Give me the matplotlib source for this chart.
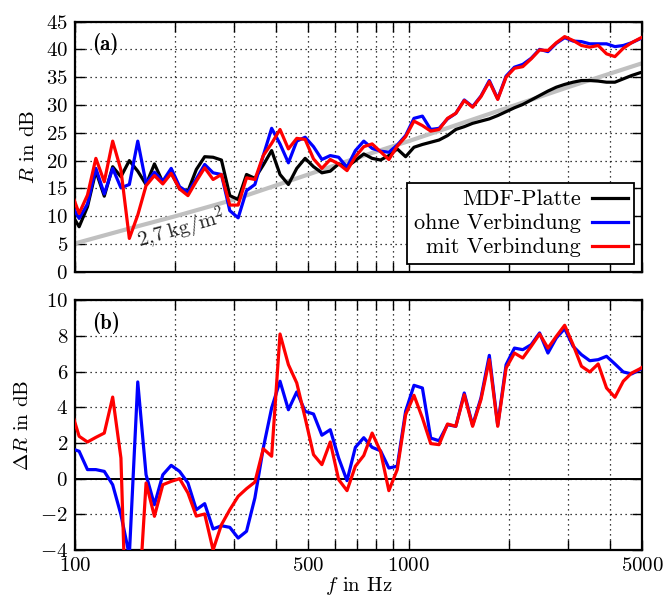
import matplotlib
matplotlib.use("Agg")
import matplotlib.pyplot as plt
from matplotlib.ticker import FixedLocator, FixedFormatter, NullLocator

plt.rcParams.update({
    "font.family": "serif",
    "font.serif": ["cmr10"],
    "mathtext.fontset": "cm",
    "axes.formatter.use_mathtext": True,
    "font.size": 15,
})

# 1/12-octave frequencies (Hz)
freq = [97.2, 102.9, 109.0, 115.5, 122.4, 129.7, 137.3, 145.5, 154.2, 163.3,
        173.0, 183.3, 194.2, 205.8, 218.0, 231.0, 244.7, 259.3, 274.7, 291.0,
        308.3, 326.6, 346.0, 366.6, 388.4, 411.5, 436.0, 461.9, 489.4, 518.5,
        549.3, 582.0, 616.6, 653.3, 692.1, 733.3, 776.9, 823.1, 872.0, 923.9,
        978.8, 1037, 1099, 1164, 1233, 1307, 1384, 1467, 1554, 1646,
        1744, 1848, 1958, 2074, 2197, 2328, 2467, 2613, 2769, 2933,
        3108, 3293, 3488, 3696, 3915, 4148, 4395, 4656, 4933, 5226]

# R in dB
r_mdf = [10.6, 8.1, 11.7, 18.1, 13.6, 18.9, 17.1, 20.0, 18.1, 15.7,
         19.4, 16.1, 17.8, 14.9, 14.5, 18.4, 20.7, 20.6, 20.1, 13.7,
         13.0, 17.5, 16.8, 19.2, 21.8, 17.5, 15.7, 18.6, 20.4, 18.9,
         17.8, 18.1, 19.4, 18.9, 20.0, 21.2, 20.4, 20.1, 20.9, 22.1,
         20.7, 22.4, 22.9, 23.3, 23.7, 24.5, 25.6, 26.1, 26.7, 27.1,
         27.5, 28.1, 28.8, 29.5, 30.1, 30.9, 31.7, 32.5, 33.2, 33.7,
         34.1, 34.4, 34.4, 34.3, 34.1, 34.1, 34.7, 35.3, 35.8, 36.2]
r_ohne = [12.3, 9.6, 12.2, 18.6, 14.0, 18.6, 15.1, 15.7, 23.5, 15.9,
          17.9, 16.3, 18.6, 15.3, 14.3, 16.7, 19.3, 17.8, 17.5, 11.0,
          9.7, 14.6, 15.7, 20.9, 25.8, 23.0, 19.6, 23.5, 24.2, 22.5,
          20.2, 20.9, 20.6, 18.8, 21.8, 23.5, 22.2, 21.7, 21.5, 22.8,
          24.5, 27.6, 28.0, 25.6, 25.8, 27.5, 28.5, 30.9, 29.7, 31.6,
          34.4, 31.1, 35.2, 36.8, 37.3, 38.4, 40.0, 39.6, 41.1, 42.1,
          41.5, 41.4, 41.0, 41.0, 41.0, 40.5, 40.7, 41.2, 41.9, 42.7]
r_mit = [14.5, 10.5, 13.8, 20.4, 16.2, 23.5, 18.3, 6.0, 10.2, 15.5,
         17.3, 15.8, 17.7, 14.9, 13.7, 16.3, 18.7, 16.6, 17.5, 12.0,
         12.0, 16.9, 16.6, 20.9, 23.1, 25.6, 22.1, 24.0, 23.8, 20.3,
         18.6, 20.2, 19.4, 18.2, 20.7, 22.5, 23.0, 21.6, 20.2, 22.6,
         24.3, 27.1, 26.3, 25.3, 25.6, 27.6, 28.5, 30.8, 29.6, 31.5,
         34.2, 31.0, 35.0, 36.6, 36.9, 38.3, 39.9, 39.8, 41.2, 42.3,
         41.6, 40.7, 40.4, 40.7, 39.2, 38.7, 40.2, 41.2, 42.0, 42.7]

# Delta R in dB (relative to MDF-Platte)
d_ohne = [1.7, 1.54, 0.51, 0.51, 0.41, -0.34, -2.02, -4.3, 5.43, 0.22,
          -1.46, 0.22, 0.75, 0.41, -0.24, -1.74, -1.40, -2.82, -2.64, -2.73,
          -3.33, -2.95, -1.08, 1.72, 3.97, 5.47, 3.87, 4.87, 3.78, 3.63,
          2.44, 2.75, 1.16, -0.11, 1.76, 2.3, 1.76, 1.57, 0.60, 0.70,
          3.78, 5.24, 5.09, 2.28, 2.13, 3.03, 2.94, 4.81, 3.0, 4.53,
          6.92, 3.0, 6.40, 7.33, 7.24, 7.52, 8.18, 7.05, 7.90, 8.42,
          7.43, 6.96, 6.62, 6.68, 6.87, 6.44, 5.99, 5.88, 6.12, 6.5]
d_mit = [3.9, 2.38, 2.06, 2.32, 2.56, 4.58, 1.16, -14.0, -7.9, -0.24,
         -2.11, -0.34, -0.15, 0.0, -0.8, -2.1, -1.98, -4.0, -2.58, -1.74,
         -0.99, -0.56, -0.19, 1.68, 1.26, 8.12, 6.40, 5.37, 3.41, 1.35,
         0.79, 2.06, -0.05, -0.67, 0.70, 1.3, 2.56, 1.53, -0.67, 0.51,
         3.59, 4.68, 3.41, 1.97, 1.91, 3.07, 2.94, 4.71, 2.94, 4.43,
         6.68, 2.94, 6.21, 7.05, 6.77, 7.43, 8.12, 7.33, 7.99, 8.61,
         7.52, 6.31, 5.99, 6.44, 5.09, 4.57, 5.47, 5.93, 6.17, 6.5]

# mass law line 2,7 kg/m^2
ml_freq = [100, 150, 200, 300, 500, 700, 1000, 2000, 3000, 5000]
ml_r = [5.1, 8.0, 10.0, 13.0, 17.5, 20.5, 23.5, 29.6, 33.2, 37.5]

xticks = [100, 200, 300, 400, 500, 600, 700, 800, 900,
          1000, 2000, 3000, 4000, 5000]
xticklabels = ["$100$", "", "", "", "$500$", "", "", "", "",
               "$1000$", "", "", "", "$5000$"]


def style_axes(ax, yticks):
    ax.set_xscale("log")
    ax.set_xlim(100, 5000)
    ax.xaxis.set_major_locator(FixedLocator(xticks))
    ax.xaxis.set_major_formatter(FixedFormatter(xticklabels))
    ax.xaxis.set_minor_locator(NullLocator())
    ax.set_ylim(yticks[0], yticks[-1])
    ax.yaxis.set_major_locator(FixedLocator(yticks))
    ax.yaxis.set_major_formatter(FixedFormatter(["$%d$" % t for t in yticks]))
    ax.tick_params(which="both", direction="in", top=True, right=True,
                   length=7, width=1.0, labelsize=15, pad=5)
    ax.grid(True, which="major", linestyle=(0, (1, 3)), color="black",
            linewidth=0.9)
    for s in ax.spines.values():
        s.set_linewidth(1.6)


fig = plt.figure(figsize=(6.63, 5.98), dpi=100)
ax1 = fig.add_axes([0.1131, 0.5455, 0.8552, 0.4184])
ax2 = fig.add_axes([0.1131, 0.0803, 0.8552, 0.4172])

# (a)
ax1.plot(ml_freq, ml_r, color="#c0c0c0", lw=3.0, zorder=2)
ax1.plot(freq, r_mdf, color="black", lw=2.3, label="MDF-Platte", zorder=3)
ax1.plot(freq, r_ohne, color="#0000ff", lw=2.3, label="ohne Verbindung", zorder=4)
ax1.plot(freq, r_mit, color="#ff0000", lw=2.3, label="mit Verbindung", zorder=5)
style_axes(ax1, list(range(0, 50, 5)))
ax1.tick_params(labelbottom=False)
ax1.set_ylabel("$R$ in dB", labelpad=6)
ax1.text(208, 7.6, r"$2{,}7\;\mathrm{kg}/\mathrm{m}^2$", rotation=16,
         ha="center", va="center", color="#222222", fontsize=15, zorder=6)
ax1.text(0.03, 0.955, "(a)", transform=ax1.transAxes, family="cmb10",
         ha="left", va="top", fontsize=15)
leg = ax1.legend(loc="lower right", markerfirst=False, fancybox=False,
                 edgecolor="black", framealpha=1, handlelength=1.6,
                 borderaxespad=0.35, labelspacing=0.2, borderpad=0.3,
                 handletextpad=0.5, fontsize=16)
leg.get_frame().set_linewidth(1.3)

# (b)
ax2.axhline(0, color="black", lw=1.4, zorder=2)
ax2.plot(freq, d_ohne, color="#0000ff", lw=2.3, zorder=3)
ax2.plot(freq, d_mit, color="#ff0000", lw=2.3, zorder=4)
style_axes(ax2, list(range(-4, 12, 2)))
ax2.set_ylabel(r"$\Delta R$ in dB", labelpad=6)
ax2.set_xlabel("$f$ in Hz", labelpad=0)
ax2.text(0.03, 0.955, "(b)", transform=ax2.transAxes, family="cmb10",
         ha="left", va="top", fontsize=15)

fig.savefig("out.png", dpi=100)
